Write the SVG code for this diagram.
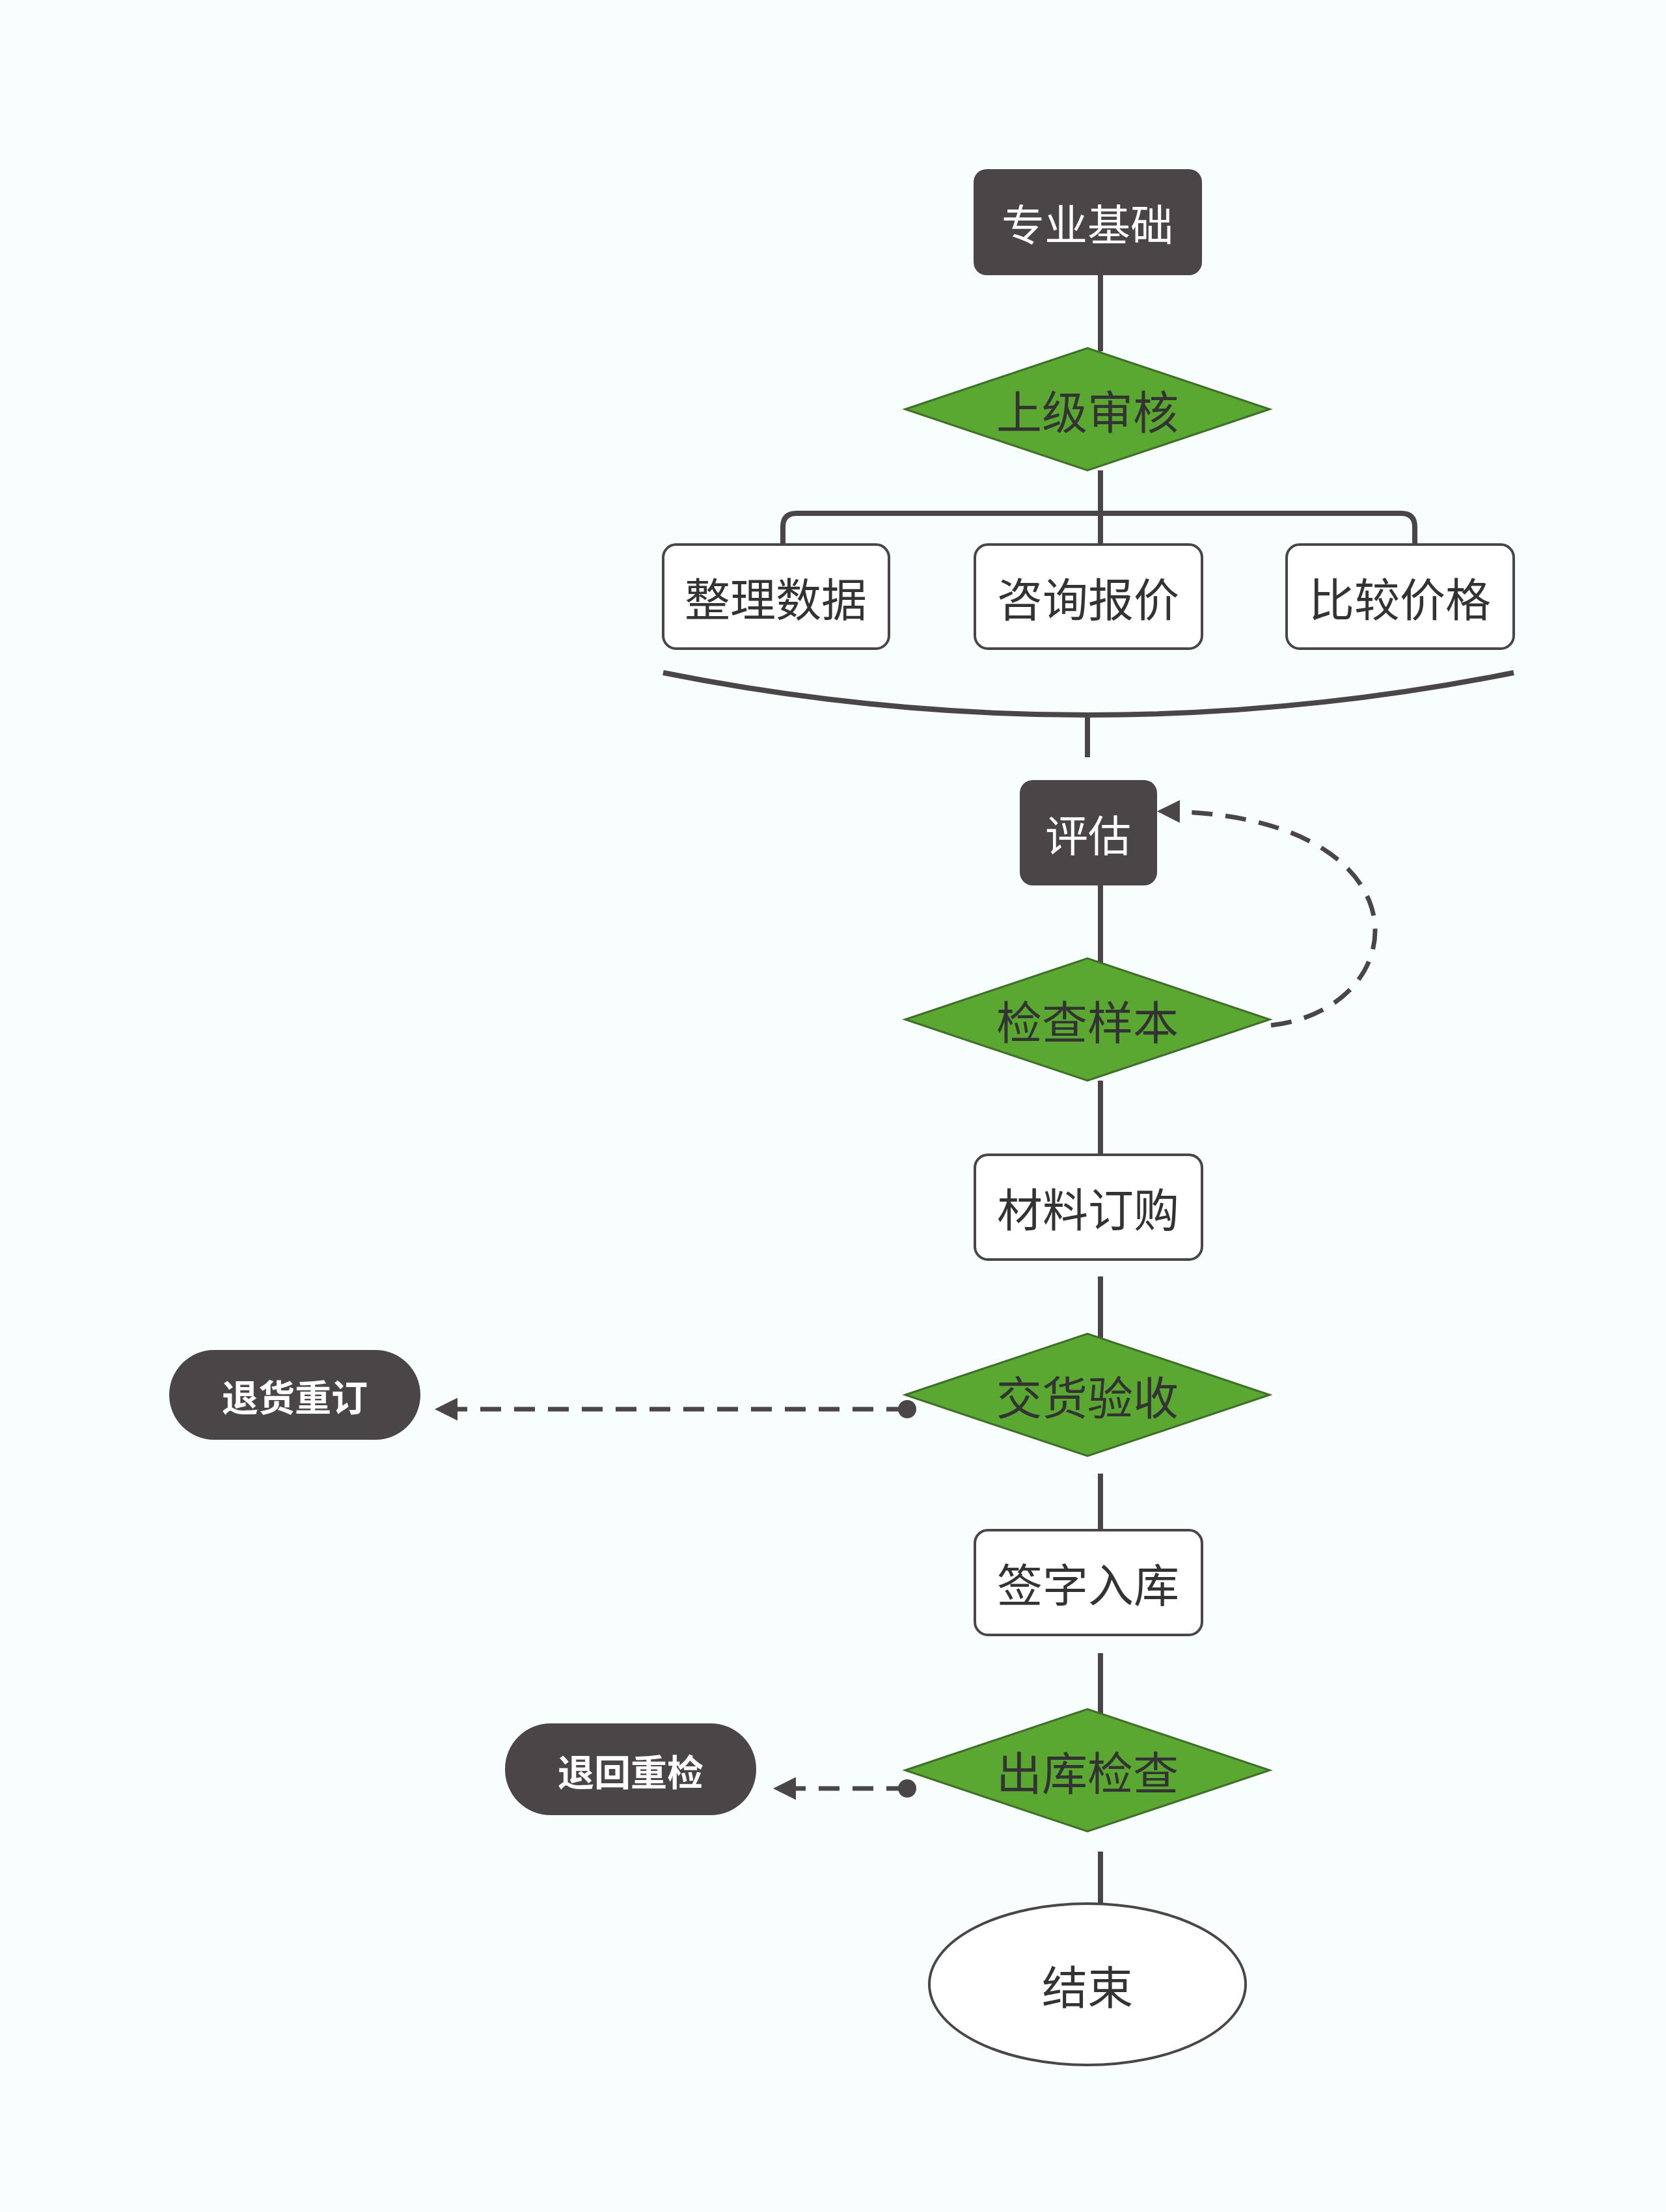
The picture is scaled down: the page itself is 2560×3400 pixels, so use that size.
<svg xmlns="http://www.w3.org/2000/svg" width="2560" height="3400" viewBox="0 0 2560 3400">
<defs>
<style>
.dark{fill:#4a4546;stroke:none}
.box{fill:#ffffff;stroke:#4a4546;stroke-width:4}
.dia{fill:#5aa832;stroke:#3f6e2a;stroke-width:3}
.ln{fill:none;stroke:#4a4546;stroke-width:8}
.dash{fill:none;stroke:#4a4546;stroke-width:7;stroke-dasharray:32 20}
text{font-family:"Noto Sans CJK SC","Noto Sans",sans-serif;text-anchor:middle;dominant-baseline:central}
.tw{fill:#ffffff;font-size:66px}
.tb{fill:#333333;font-size:70px}
.tp{fill:#ffffff;font-size:56px;font-weight:bold}
</style>
<marker id="ah" viewBox="0 0 10 10" refX="8" refY="5" markerWidth="5" markerHeight="5" orient="auto"><path d="M0,0 L10,5 L0,10 Z" fill="#4a4546"/></marker>
</defs>
<rect width="2560" height="3400" fill="#f8fdfd"/>
<g id="connectors">
<path class="ln" d="M1691,423 V540"/>
<path class="ln" d="M1691,723 V840"/>
<path class="ln" d="M1203,840 V810 Q1203,789 1224,789 H2153 Q2174,789 2174,810 V840"/>
<path class="ln" d="M1019,1034 Q1671,1164 2326,1034"/>
<path class="ln" d="M1671,1099 V1164"/>
<path class="ln" d="M1691,1361 V1480"/>
<path class="dash" marker-end="url(#ah)" d="M1953,1576 C2180,1550 2200,1250 1785,1247"/>
<path class="ln" d="M1691,1661 V1778"/>
<path class="ln" d="M1691,1962 V2070"/>
<path class="dash" marker-end="url(#ah)" d="M1394,2166 H675"/>
<circle cx="1394" cy="2166" r="14" fill="#4a4546"/>
<path class="ln" d="M1691,2265 V2363"/>
<path class="ln" d="M1691,2541 V2656"/>
<path class="dash" marker-end="url(#ah)" d="M1394,2749 H1195"/>
<circle cx="1394" cy="2749" r="14" fill="#4a4546"/>
<path class="ln" d="M1691,2846 V2959"/>
</g>
<g id="n1"><rect class="dark" x="1496" y="260" width="351" height="163" rx="20"/><text class="tw" x="1671" y="341">专业基础</text></g>
<g id="n2"><polygon class="dia" points="1391,629 1671,535 1951,629 1671,723"/><text class="tb" x="1671" y="629">上级审核</text></g>
<g id="n3"><rect class="box" x="1019" y="837" width="347" height="160" rx="20"/><text class="tb" x="1192" y="917">整理数据</text></g>
<g id="n4"><rect class="box" x="1498" y="837" width="349" height="160" rx="20"/><text class="tb" x="1672" y="917">咨询报价</text></g>
<g id="n5"><rect class="box" x="1977" y="837" width="349" height="160" rx="20"/><text class="tb" x="2151" y="917">比较价格</text></g>
<g id="n6"><rect class="dark" x="1567" y="1199" width="211" height="162" rx="20"/><text class="tw" x="1672" y="1280">评估</text></g>
<g id="n7"><polygon class="dia" points="1391,1567 1671,1473 1951,1567 1671,1661"/><text class="tb" x="1671" y="1567">检查样本</text></g>
<g id="n8"><rect class="box" x="1498" y="1775" width="349" height="161" rx="20"/><text class="tb" x="1672" y="1855">材料订购</text></g>
<g id="n9"><polygon class="dia" points="1391,2144 1671,2050 1951,2144 1671,2238"/><text class="tb" x="1671" y="2144">交货验收</text></g>
<g id="n10"><rect class="dark" x="260" y="2075" width="386" height="138" rx="69"/><text class="tp" x="453" y="2144">退货重订</text></g>
<g id="n11"><rect class="box" x="1498" y="2352" width="349" height="161" rx="20"/><text class="tb" x="1672" y="2432">签字入库</text></g>
<g id="n12"><polygon class="dia" points="1391,2721 1671,2627 1951,2721 1671,2815"/><text class="tb" x="1671" y="2721">出库检查</text></g>
<g id="n13"><rect class="dark" x="776" y="2649" width="386" height="141" rx="70"/><text class="tp" x="969" y="2720">退回重检</text></g>
<g id="n14"><ellipse class="box" cx="1671" cy="3050" rx="243" ry="124"/><text class="tb" x="1671" y="3050">结束</text></g>
</svg>
